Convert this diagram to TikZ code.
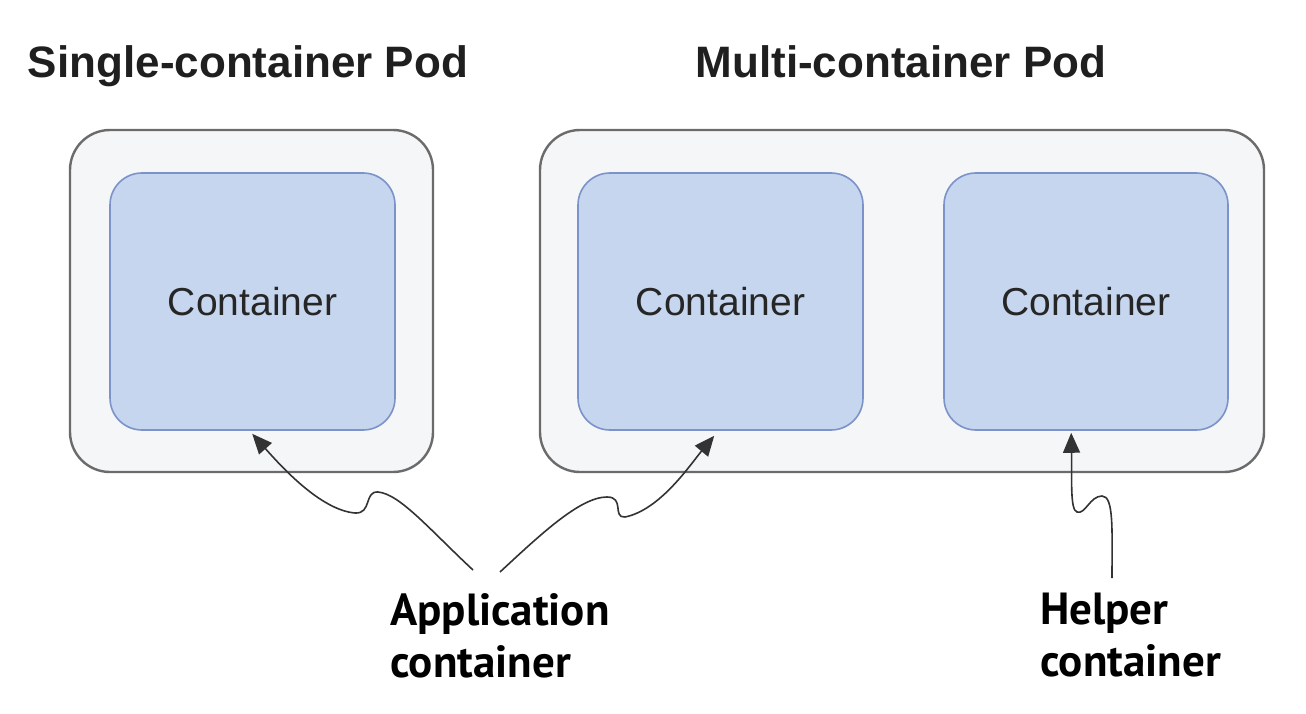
\documentclass[tikz,border=0pt]{standalone}
\usepackage{fontspec}
\setmainfont{Liberation Sans}
\newfontfamily\labelfont{PT Sans}
\usetikzlibrary{arrows.meta,calc}
\definecolor{podfill}{HTML}{F5F6F8}
\definecolor{podline}{HTML}{6B6B6B}
\definecolor{ctrfill}{HTML}{C6D6EE}
\definecolor{ctrline}{HTML}{7B93C9}
\tikzset{
  pod/.style={draw=podline, fill=podfill, line width=2.4pt, rounded corners=40pt, inner sep=0pt},
  ctr/.style={draw=ctrline, fill=ctrfill, line width=1.6pt, rounded corners=32pt, inner sep=0pt,
    minimum width=285pt, minimum height=257pt, font=\fontsize{39}{46}\selectfont, text=black!85},
  title/.style={font=\fontsize{44}{52}\selectfont\bfseries, text=black!88, inner sep=0pt, anchor=base},
  lbl/.style={font=\labelfont\bfseries\fontsize{45}{52}\selectfont, align=left, inner sep=0pt, text=black},
  callout/.style={draw=black!80, line width=1.6pt, -{Triangle[length=20pt,width=17pt]}}
}
\begin{document}
\begin{tikzpicture}[x=1pt,y=-1pt]
\useasboundingbox (0,0) rectangle (1306,714);
\node[title] (t1) at (248,78) {Single-container Pod};
\node[title] (t2) at (901,78) {Multi-container Pod};
\node[pod, minimum width=363pt, minimum height=342pt] (p1) at (251.5,301) {};
\node[pod, minimum width=724pt, minimum height=342pt] (p2) at (902,301) {};
\node[ctr] (c1) at (252.5,301.5) {Container};
\node[ctr] (c2) at (720.5,301.5) {Container};
\node[ctr, minimum width=284pt] (c3) at (1086,301.5) {Container};
\node[lbl, anchor=north west] (app) at (390,593) {Application\\container};
\node[lbl, anchor=north west] (help) at (1040,593) {Helper\\container};
\coordinate (a1) at (473,570);
\coordinate (a2) at (500,572);
\coordinate (h1) at (1112,578);
\draw[callout] (a1) .. controls (430,530) and (400,494) .. (378,492)
  .. controls (364,491) and (372,514) .. (355,513)
  .. controls (320,510) and (280,465) .. ($(c1.south west)+(143,3)$);
\draw[callout] (a2) .. controls (540,535) and (580,497) .. (607,497)
  .. controls (625,497) and (612,518) .. (625,517)
  .. controls (660,510) and (690,465) .. ($(c2.south west)+(137,5)$);
\draw[callout] (h1) .. controls (1112,530) and (1114,496) .. (1102,496)
  .. controls (1090,496) and (1085,515) .. (1077,512)
  .. controls (1070,510) and (1072,480) .. ($(c3.south west)+(128,2)$);
\end{tikzpicture}
\end{document}
